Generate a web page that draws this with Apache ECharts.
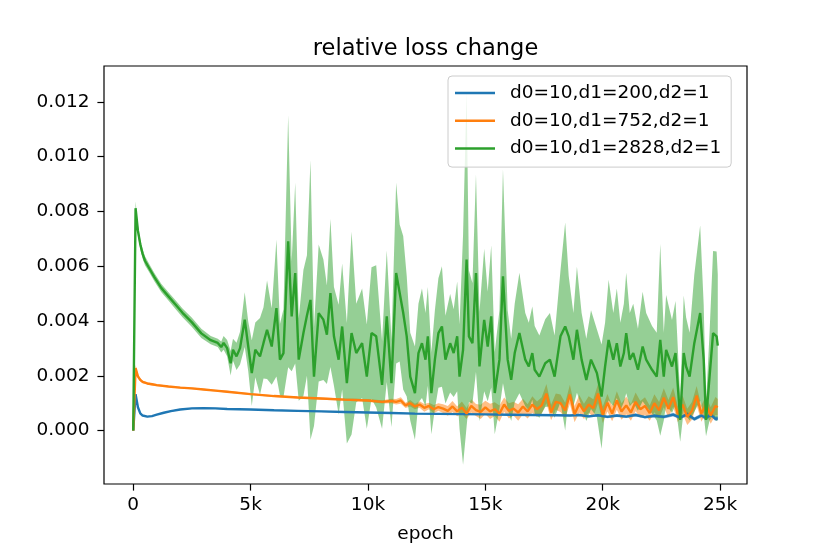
<!DOCTYPE html>
<html>
<head>
<meta charset="utf-8">
<script src="https://cdn.jsdelivr.net/npm/echarts@6/dist/echarts.min.js"></script>
<style>
html,body{margin:0;padding:0;background:#fff;}
#chart{width:830px;height:554px;}
</style>
</head>
<body>
<div id="chart"></div>
<script>
// values in units of 1e-3
const SCALE = 1e-3;
const seriesNames = ['d0=10,d1=200,d2=1', 'd0=10,d1=752,d2=1', 'd0=10,d1=2828,d2=1'];
const xTicks = [0, 5000, 10000, 15000, 20000, 25000];
const yTicks = [0, 0.002, 0.004, 0.006, 0.008, 0.010, 0.012];

const blueEpochs = [0,100,200,300,400,600,800,1000,1300,1600,2000,2500,3000,3500,4000,
  5000,6000,7000,8000,9000,10000,11000,12000,13000,14000,15000,16000,17000,18000,
  18600,19000,19400,19800,20200,20600,21000,21400,21800,22200,22600,23000,23300,23600,23900,
  24200,24400,24600,24800,24900];
const blueMean = [0,1.33,0.85,0.63,0.55,0.51,0.53,0.58,0.65,0.71,0.77,0.81,0.82,0.81,0.79,
  0.77,0.74,0.72,0.70,0.68,0.66,0.64,0.62,0.61,0.60,0.59,0.58,0.57,0.56,
  0.55,0.57,0.52,0.56,0.50,0.55,0.51,0.57,0.49,0.54,0.50,0.58,0.47,0.60,0.42,
  0.55,0.46,0.58,0.43,0.44];
const blueStd = [0,0.05,0.03,0.02,0.02,0.02,0.02,0.02,0.02,0.02,0.02,0.02,0.02,0.02,0.02,
  0.02,0.02,0.02,0.02,0.02,0.02,0.02,0.02,0.02,0.02,0.02,0.02,0.02,0.02,
  0.03,0.04,0.04,0.05,0.05,0.05,0.05,0.06,0.05,0.06,0.06,0.07,0.06,0.08,0.07,
  0.07,0.08,0.07,0.08,0.08];

const orangeEpochs = [0,100,200,300,400,600,800,1000,1500,2000,2500,3000,3500,4000,5000,6000,7000,8000,9000,10000,10600,11000,
  11200,11400,11600,11800,12000,12200,12400,12600,12800,13000,
  13200,13400,13600,13800,14000,14200,14400,14600,14800,15000,
  15200,15400,15600,15800,16000,16200,16400,16600,16800,17000,
  17200,17400,17600,17800,18000,18200,18400,18600,18800,19000,
  19200,19400,19600,19800,20000,20200,20400,20600,20800,21000,
  21200,21400,21600,21800,22000,22200,22400,22600,22800,23000,
  23200,23400,23600,23800,24000,24200,24400,24600,24800,24900];
const orangeMean = [0,2.28,1.98,1.85,1.78,1.72,1.69,1.66,1.61,1.57,1.54,1.50,1.46,1.42,1.33,1.26,1.21,1.17,1.13,1.10,1.05,1.08,
  1.05,1.10,0.92,1.00,0.88,0.95,0.83,0.90,0.78,0.86,
  0.80,0.72,0.88,0.70,0.84,0.62,0.90,0.75,0.68,0.85,
  0.70,0.78,0.62,0.95,0.72,0.80,0.66,0.88,0.70,0.95,
  0.78,0.92,1.35,0.66,1.05,1.00,0.74,1.32,0.60,0.98,
  0.70,0.95,0.82,1.35,0.58,1.02,0.62,1.10,0.70,0.92,
  0.66,1.05,0.78,0.90,0.64,1.00,0.74,1.20,0.80,1.22,
  0.60,0.95,0.50,0.72,1.28,0.62,0.95,0.55,0.90,0.85];
const orangeStd = [0,0.12,0.08,0.06,0.05,0.04,0.04,0.04,0.03,0.03,0.03,0.03,0.03,0.03,0.03,0.03,0.03,0.04,0.04,0.05,0.06,0.08,
  0.10,0.12,0.10,0.12,0.10,0.12,0.14,0.12,0.15,0.14,
  0.16,0.18,0.20,0.18,0.22,0.20,0.24,0.22,0.26,0.24,
  0.28,0.25,0.30,0.26,0.28,0.25,0.30,0.28,0.26,0.30,
  0.28,0.30,0.35,0.28,0.30,0.32,0.28,0.35,0.30,0.32,
  0.28,0.30,0.32,0.35,0.30,0.32,0.28,0.34,0.30,0.32,
  0.30,0.34,0.30,0.32,0.28,0.33,0.30,0.35,0.32,0.35,
  0.30,0.33,0.30,0.32,0.35,0.30,0.32,0.30,0.33,0.30];

const greenEpochs = [0,100,200,300,400,500,700,900,1200,1500,
  1800,2100,2500,2900,3300,3600,3750,3850,4000,4150,
  4250,4400,4550,4750,4900,5050,5200,5400,5550,5700,
  5900,6100,6250,6400,6600,6750,6900,7050,7250,7400,
  7550,7700,7900,8100,8250,8400,8550,8750,8900,9100,
  9300,9500,9750,9950,10150,10350,10600,10800,11000,11200,
  11350,11500,11650,11800,12000,12150,12300,12450,12550,12700,
  12850,13000,13150,13300,13500,13650,13800,13900,14050,14200,
  14300,14450,14600,14750,14950,15100,15250,15400,15600,15750,
  15950,16100,16250,16450,16700,16850,17000,17100,17300,17550,
  17750,17950,18200,18400,18550,18750,18900,19100,19300,19500,
  19750,19950,20100,20250,20450,20600,20750,20900,21000,21150,
  21300,21500,21700,21850,22100,22300,22450,22600,22700,22950,
  23100,23300,23450,23550,23700,23900,24150,24300,24400,24550,
  24700,24850,24900];
const greenMean = [0,8.12,7.3,6.8,6.45,6.2,5.9,5.6,5.2,4.9,
  4.6,4.3,3.95,3.55,3.3,3.2,3.05,3.2,3.01,2.46,
  2.95,2.71,3.01,4.05,3.07,2.10,2.95,2.71,3.2,3.68,
  3.07,4.47,2.59,2.83,6.91,4.17,5.75,2.59,3.56,4.2,
  4.77,1.97,4.29,4.05,3.5,5.02,3.44,2.59,3.80,1.73,
  3.56,2.83,3.19,1.97,3.56,3.44,1.67,4.17,1.73,5.75,
  5.02,4.3,3.44,1.97,1.37,2.83,3.19,2.59,3.44,1.37,
  2.59,3.56,3.80,2.59,3.19,2.83,3.44,1.97,2.95,6.24,
  3.44,3.19,5.75,2.34,4.04,3.07,4.17,1.37,2.59,5.63,
  2.59,1.85,2.83,3.56,2.59,2.34,2.83,2.22,1.97,2.46,
  2.59,1.97,3.44,3.80,3.44,2.59,3.68,2.59,1.85,2.59,
  2.10,1.24,2.34,3.31,2.59,3.19,2.34,2.83,3.56,2.59,
  2.83,2.22,3.07,2.59,2.22,1.97,3.31,1.97,2.95,2.34,
  2.83,0.39,2.83,2.34,1.97,3.19,4.29,2.59,0.39,1.97,
  3.56,3.44,3.1];
const greenStd = [0,0.25,0.2,0.18,0.17,0.16,0.15,0.15,0.15,0.15,
  0.16,0.16,0.17,0.17,0.15,0.15,0.2,0.25,0.3,0.45,
  0.4,0.5,0.6,1.0,0.9,1.2,1.0,1.4,1.3,1.8,
  1.4,2.5,1.3,1.6,4.6,2.0,3.3,1.5,2.3,2.2,
  5.1,1.8,2.5,2.2,1.8,2.7,1.8,2.0,2.3,2.2,
  3.7,1.8,2.0,1.9,2.4,2.6,1.6,2.4,1.6,3.3,
  2.5,2.8,2.2,1.6,1.7,1.8,2.0,1.7,1.8,1.5,
  1.8,2.0,2.2,1.6,1.8,1.6,2.0,1.9,4.2,6.1,
  2.4,2.2,3.6,2.0,2.6,2.0,2.6,1.5,1.8,3.9,
  1.8,1.5,1.8,2.2,1.7,1.6,1.7,1.6,1.5,1.6,
  1.7,1.5,2.4,3.8,2.2,1.7,2.3,1.7,1.5,1.8,
  1.6,1.9,1.6,2.2,1.7,2.0,1.6,1.8,2.2,1.7,
  1.8,1.5,2.0,1.7,1.6,1.6,3.5,1.6,2.0,1.7,
  1.9,0.8,2.1,1.8,1.6,2.5,3.2,2.0,0.6,1.6,
  3.0,3.1,2.6];

const colors = ['#1f77b4', '#ff7f0e', '#2ca02c'];
const FONT = 'DejaVu Sans';

const groups = [
  [blueEpochs, blueMean, blueStd],
  [orangeEpochs, orangeMean, orangeStd],
  [greenEpochs, greenMean, greenStd]
];

const series = [];
groups.forEach(([ep, mean, std], k) => {
  const data = ep.map((e, i) => [e, (mean[i] - std[i]) * SCALE, (mean[i] + std[i]) * SCALE]);
  series.push({
    name: 'band' + k, type: 'custom', silent: true, z: 1, clip: true,
    data: data,
    encode: { x: 0, y: [1, 2] },
    renderItem: function (params, api) {
      if (params.dataIndex !== 0) return null;
      const pts = [];
      for (let i = 0; i < data.length; i++) pts.push(api.coord([data[i][0], data[i][2]]));
      for (let i = data.length - 1; i >= 0; i--) pts.push(api.coord([data[i][0], data[i][1]]));
      return {
        type: 'polygon',
        shape: { points: pts },
        style: { fill: colors[k], opacity: 0.5, stroke: null }
      };
    }
  });
});
groups.forEach(([ep, mean], k) => {
  series.push({
    name: seriesNames[k], type: 'line',
    data: ep.map((e, i) => [e, mean[i] * SCALE]),
    symbol: 'none', color: colors[k],
    lineStyle: { width: 2.4, color: colors[k] }, z: 2,
    emphasis: { disabled: true }
  });
});

const chart = echarts.init(document.getElementById('chart'), null, { renderer: 'canvas' });
chart.setOption({
  animation: false,
  backgroundColor: '#fff',
  graphic: [{
    type: 'text', x: 425.5, y: 49, z: 10,
    style: { text: 'relative loss change', fill: '#000', font: '22.5px "DejaVu Sans"',
      align: 'center', verticalAlign: 'middle', textAlign: 'center', textVerticalAlign: 'middle' }
  }],
  grid: { left: 104, right: 83, top: 66, bottom: 70, show: true, borderColor: '#000', borderWidth: 1.2, backgroundColor: 'transparent' },
  legend: {
    data: seriesNames, orient: 'vertical', left: 448, top: 76,
    icon: 'rect', itemWidth: 40, itemHeight: 2.5, itemGap: 8.8,
    padding: [7.5, 10, 9, 7],
    backgroundColor: 'rgba(255,255,255,0.8)', borderColor: '#cccccc', borderWidth: 1, borderRadius: 4,
    textStyle: { fontFamily: FONT, fontSize: 18.5, lineHeight: 19, color: '#000', padding: [0, 0, 0, 10] },
    selectedMode: false
  },
  xAxis: {
    type: 'value', min: -1245, max: 26145,
    name: 'epoch', nameLocation: 'middle', nameGap: 41,
    nameTextStyle: { fontFamily: FONT, fontSize: 18.5, color: '#000' },
    axisLine: { show: false, onZero: false },
    splitLine: { show: false },
    axisTick: { show: true, inside: false, length: 6.6, lineStyle: { color: '#000', width: 1.2 }, customValues: xTicks },
    axisLabel: { margin: 12, fontFamily: FONT, fontSize: 18.5, color: '#000', customValues: xTicks,
      formatter: v => v === 0 ? '0' : (v / 1000) + 'k' }
  },
  yAxis: {
    type: 'value', min: -0.00195, max: 0.01331,
    axisLine: { show: false, onZero: false },
    splitLine: { show: false },
    axisTick: { show: true, inside: false, length: 6.6, lineStyle: { color: '#000', width: 1.2 }, customValues: yTicks },
    axisLabel: { margin: 14.5, fontFamily: FONT, fontSize: 18.5, color: '#000', customValues: yTicks,
      formatter: v => v.toFixed(3) }
  },
  series: series
});
</script>
</body>
</html>
